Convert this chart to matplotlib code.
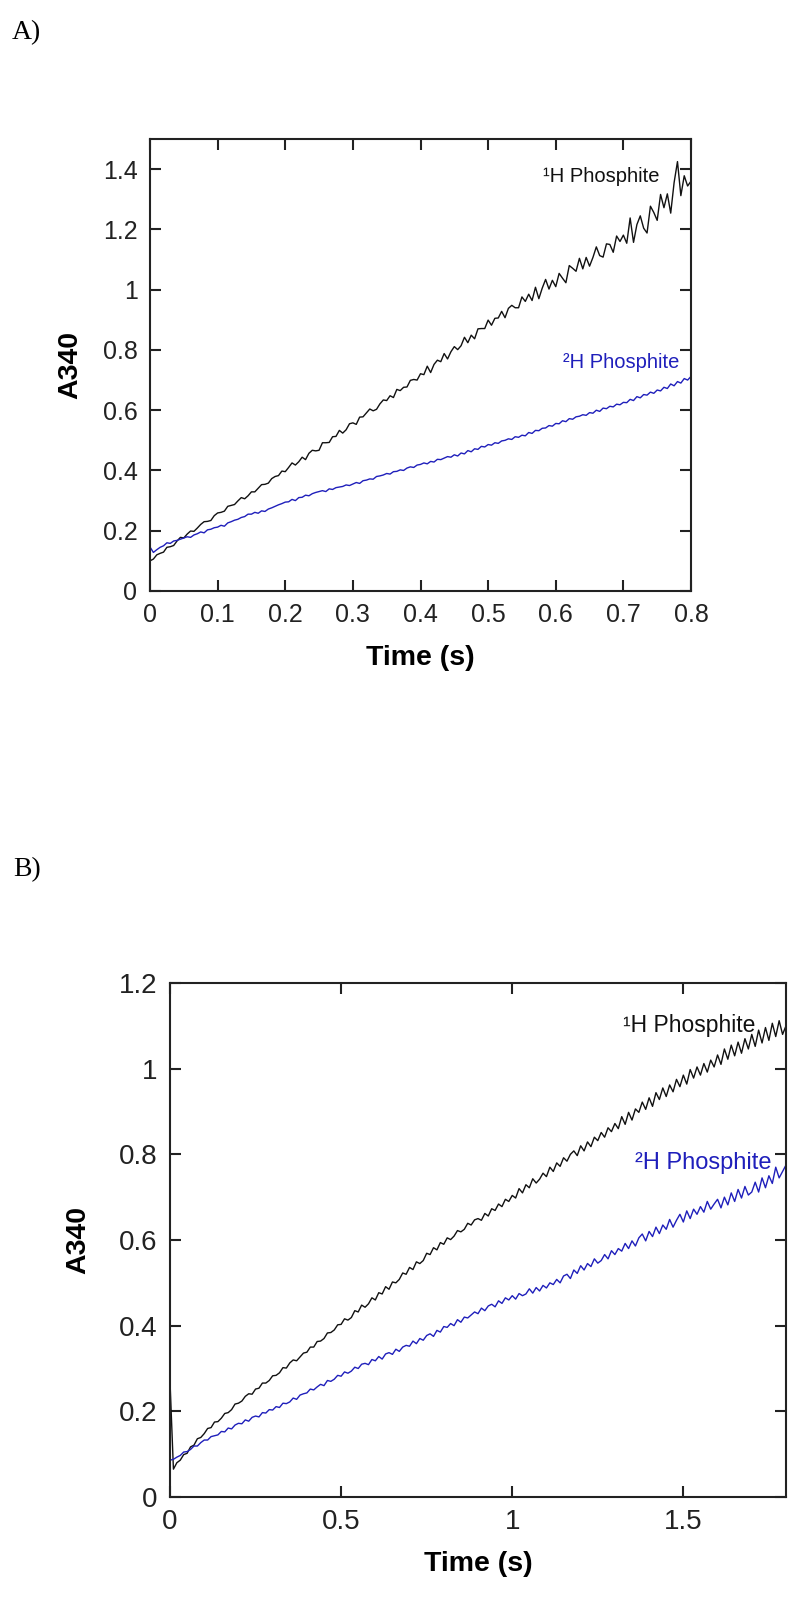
import numpy as np
import matplotlib
matplotlib.use("Agg")
import matplotlib.pyplot as plt
from matplotlib.ticker import FormatStrFormatter, MultipleLocator

# ---------------- data (thousandths of A340) ----------------
# Panel A: sampled every 0.005 s from 0 to 0.8 s
tA = np.arange(161) * 0.005
A_H1 = [100, 106, 120, 125, 129, 145, 147, 151, 166, 178, 176,
        189, 199, 198, 209, 221, 230, 231, 234, 250, 259,
        261, 265, 281, 284, 287, 299, 310, 306, 316, 329,
        329, 341, 353, 354, 358, 373, 380, 383, 398, 396,
        410, 425, 418, 429, 444, 436, 457, 467, 465, 467,
        492, 492, 493, 512, 513, 533, 524, 535, 555, 558,
        553, 577, 578, 591, 604, 598, 603, 621, 634, 632,
        648, 642, 669, 665, 676, 677, 699, 702, 700, 721,
        718, 746, 725, 752, 766, 761, 788, 770, 794, 811,
        801, 814, 842, 824, 849, 837, 870, 871, 871, 899,
        882, 905, 906, 928, 907, 938, 948, 940, 940, 976,
        961, 985, 964, 1008, 970, 1005, 1034, 1002, 1031, 1010,
        1054, 1038, 1023, 1080, 1071, 1061, 1104, 1069, 1107, 1078,
        1107, 1142, 1113, 1108, 1152, 1150, 1124, 1178, 1160, 1181,
        1154, 1238, 1157, 1216, 1245, 1204, 1188, 1277, 1256, 1230,
        1316, 1272, 1318, 1254, 1355, 1425, 1312, 1378, 1344, 1360]
A_H2 = [146, 128, 137, 145, 150, 160, 158, 166, 168, 172, 176,
        180, 178, 186, 190, 196, 193, 203, 205, 210, 212,
        218, 215, 226, 230, 235, 238, 244, 247, 255, 255,
        261, 258, 266, 264, 272, 276, 281, 286, 290, 295,
        296, 304, 300, 310, 311, 318, 316, 323, 327, 330,
        333, 330, 339, 337, 343, 345, 347, 352, 350, 355,
        360, 357, 366, 368, 372, 371, 380, 382, 385, 390,
        388, 396, 397, 402, 400, 408, 412, 410, 418, 420,
        425, 422, 430, 428, 437, 436, 441, 446, 444, 452,
        448, 458, 455, 466, 462, 472, 470, 480, 478, 486,
        484, 492, 490, 498, 500, 505, 503, 512, 510, 517,
        515, 526, 523, 533, 532, 540, 541, 549, 547, 556,
        555, 565, 562, 572, 570, 578, 580, 585, 583, 592,
        590, 600, 596, 607, 605, 613, 611, 620, 618, 626,
        625, 636, 632, 645, 641, 652, 650, 660, 656, 667,
        664, 676, 672, 687, 681, 695, 690, 705, 700, 712]

# Panel B: sampled every 0.01 s from 0 to 1.8 s
tB = np.arange(181) * 0.01
B_H1 = [270, 65, 80, 86, 99, 102, 117, 121, 136, 139, 148,
        160, 162, 175, 176, 184, 195, 197, 204, 217, 219,
        224, 235, 241, 240, 252, 254, 266, 266, 272, 283,
        284, 290, 302, 301, 313, 320, 318, 327, 336, 338,
        350, 350, 363, 364, 370, 383, 384, 390, 402, 403,
        416, 413, 419, 435, 432, 448, 443, 451, 465, 460,
        477, 474, 491, 485, 502, 500, 508, 523, 520, 536,
        531, 549, 545, 552, 569, 566, 582, 577, 594, 590,
        605, 601, 609, 622, 619, 625, 639, 635, 647, 650,
        646, 662, 656, 673, 669, 684, 678, 695, 690, 704,
        698, 720, 710, 729, 722, 743, 733, 742, 756, 748,
        770, 760, 780, 772, 792, 784, 800, 808, 797, 820,
        808, 829, 818, 840, 832, 851, 840, 862, 853, 872,
        860, 888, 870, 898, 880, 906, 898, 922, 905, 932,
        912, 944, 928, 955, 935, 962, 946, 975, 958, 985,
        964, 998, 978, 1004, 985, 1012, 992, 1020, 1004, 1032,
        1010, 1046, 1022, 1055, 1030, 1062, 1036, 1070, 1046, 1080,
        1052, 1090, 1060, 1096, 1066, 1106, 1075, 1112, 1080, 1100]
B_H2 = [86, 88, 93, 97, 105, 106, 111, 119, 119, 127, 133,
        133, 141, 143, 145, 153, 152, 161, 159, 168, 172,
        171, 180, 177, 186, 189, 187, 197, 196, 204, 203,
        211, 209, 219, 218, 222, 231, 228, 238, 241, 243,
        252, 250, 257, 263, 260, 272, 270, 275, 284, 282,
        292, 289, 294, 303, 300, 310, 312, 309, 321, 318,
        328, 322, 334, 337, 333, 345, 340, 350, 354, 352,
        364, 358, 370, 366, 377, 381, 375, 389, 385, 398,
        396, 405, 400, 414, 408, 420, 418, 425, 432, 428,
        441, 435, 446, 450, 444, 458, 452, 465, 460, 470,
        462, 475, 470, 474, 486, 476, 489, 481, 494, 488,
        500, 496, 508, 500, 516, 520, 510, 530, 522, 540,
        530, 545, 538, 556, 546, 552, 566, 556, 575, 566,
        580, 574, 592, 580, 598, 586, 605, 614, 598, 620,
        608, 630, 615, 635, 625, 648, 630, 646, 660, 642,
        668, 650, 672, 660, 678, 665, 690, 672, 684, 695,
        675, 700, 682, 710, 690, 718, 698, 725, 705, 712,
        735, 712, 745, 722, 750, 732, 770, 745, 760, 775]

label_H1 = "\u00b9H Phosphite"
label_H2 = "\u00b2H Phosphite"

BLACK = "#111111"
BLUE = "#1f1fbb"

plt.rcParams['font.family'] = ['Liberation Sans', 'DejaVu Sans']

fig = plt.figure(figsize=(8, 15.99), dpi=100)

def style_axes(ax, fs, xmaj, ymaj, lw):
    for s in ax.spines.values():
        s.set_linewidth(lw)
        s.set_color('#222222')
    ax.tick_params(direction='in', top=True, right=True, length=8,
                   width=lw, labelsize=fs, pad=8.5, colors='#222222')
    ax.tick_params(axis='y', pad=9)
    ax.xaxis.set_major_locator(MultipleLocator(xmaj))
    ax.yaxis.set_major_locator(MultipleLocator(ymaj))
    ax.xaxis.set_major_formatter(FormatStrFormatter('%g'))
    ax.yaxis.set_major_formatter(FormatStrFormatter('%g'))

# ---------------- Panel A ----------------
axA = fig.add_axes([150/800, 1 - 591/1599, 541/800, 452/1599])
axA.plot(tA, np.array(A_H1) / 1000, color=BLACK, lw=1.0)
axA.plot(tA, np.array(A_H2) / 1000, color=BLUE, lw=1.0)
axA.set_xlim(0, 0.8)
axA.set_ylim(0, 1.5)
style_axes(axA, 18, 0.1, 0.2, 1.5)
axA.set_yticks([0, 0.2, 0.4, 0.6, 0.8, 1, 1.2, 1.4])
axA.set_xlabel("Time (s)", fontsize=20.5, fontweight='bold', labelpad=13)
axA.set_ylabel("A340", fontsize=20.5, fontweight='bold', labelpad=14)
axA.text(0.581, 1.357, label_H1, fontsize=14.5, color=BLACK, va='baseline')
axA.text(0.610, 0.741, label_H2, fontsize=14.5, color=BLUE, va='baseline')

# ---------------- Panel B ----------------
axB = fig.add_axes([170/800, 1 - 1497/1599, 616/800, 514/1599])
axB.plot(tB, np.array(B_H1) / 1000, color=BLACK, lw=1.0)
axB.plot(tB, np.array(B_H2) / 1000, color=BLUE, lw=1.0)
axB.set_xlim(0, 1.8)
axB.set_ylim(0, 1.2)
style_axes(axB, 20, 0.5, 0.2, 1.5)
axB.set_xlabel("Time (s)", fontsize=20.5, fontweight='bold', labelpad=12)
axB.set_ylabel("A340", fontsize=20.5, fontweight='bold', labelpad=20)
axB.text(1.324, 1.086, label_H1, fontsize=16.5, color=BLACK, va='baseline')
axB.text(1.359, 0.765, label_H2, fontsize=17, color=BLUE, va='baseline')

# panel letters
fig.text(12/800, 1 - 39/1599, "A)", fontsize=20, family='Liberation Serif',
         va='baseline')
fig.text(13/800, 1 - 876/1599, "B)", fontsize=20, family='Liberation Serif',
         va='baseline')

fig.savefig("out.png", dpi=100)
